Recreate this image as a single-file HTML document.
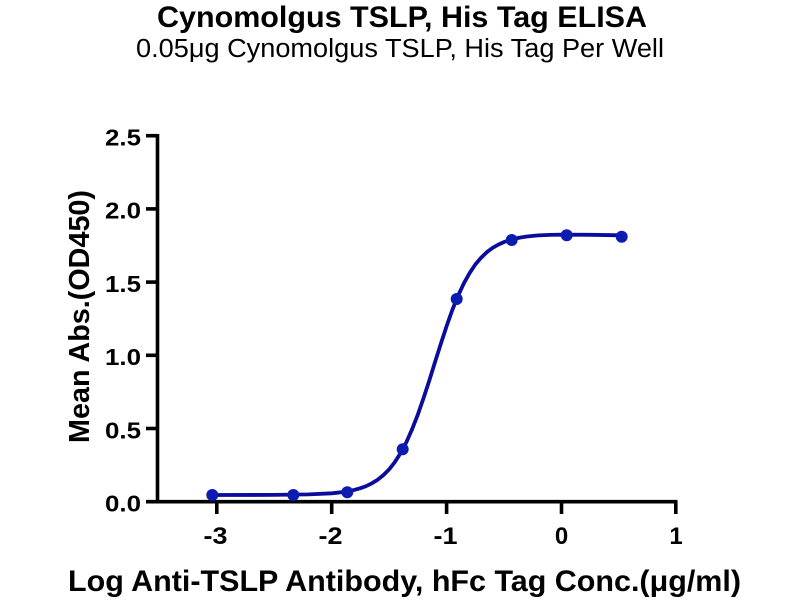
<!DOCTYPE html>
<html>
<head>
<meta charset="utf-8">
<style>
html,body{margin:0;padding:0;background:#fff;}
svg{display:block;}
text{font-family:"Liberation Sans",Arial,sans-serif;fill:#000;}
</style>
</head>
<body>
<svg width="800" height="600" viewBox="0 0 800 600" xmlns="http://www.w3.org/2000/svg">
<rect x="0" y="0" width="800" height="600" fill="#fff"/>
<!-- Titles -->
<text x="402" y="27" font-size="29.5" font-weight="bold" text-anchor="middle" textLength="490" lengthAdjust="spacingAndGlyphs">Cynomolgus TSLP, His Tag ELISA</text>
<text x="400" y="57" font-size="25.5" text-anchor="middle" textLength="528" lengthAdjust="spacingAndGlyphs">0.05μg Cynomolgus TSLP, His Tag Per Well</text>

<!-- Axes -->
<g stroke="#000" stroke-width="3.6" fill="none" stroke-linecap="butt">
  <line x1="157.5" y1="134" x2="157.5" y2="503.5"/>
  <line x1="146" y1="501.7" x2="677.5" y2="501.7"/>
  <!-- y ticks -->
  <line x1="146" y1="135.7" x2="157.5" y2="135.7"/>
  <line x1="146" y1="208.9" x2="157.5" y2="208.9"/>
  <line x1="146" y1="282.1" x2="157.5" y2="282.1"/>
  <line x1="146" y1="355.3" x2="157.5" y2="355.3"/>
  <line x1="146" y1="428.5" x2="157.5" y2="428.5"/>
  <!-- x ticks -->
  <line x1="216.8" y1="501.7" x2="216.8" y2="514"/>
  <line x1="331.7" y1="501.7" x2="331.7" y2="514"/>
  <line x1="446.6" y1="501.7" x2="446.6" y2="514"/>
  <line x1="561.5" y1="501.7" x2="561.5" y2="514"/>
  <line x1="675.8" y1="501.7" x2="675.8" y2="514"/>
</g>

<!-- Y tick labels -->
<g font-size="23.5" font-weight="bold" text-anchor="end">
  <text x="141" y="145.5" textLength="36" lengthAdjust="spacingAndGlyphs">2.5</text>
  <text x="141" y="218.7" textLength="36" lengthAdjust="spacingAndGlyphs">2.0</text>
  <text x="141" y="291.9" textLength="36" lengthAdjust="spacingAndGlyphs">1.5</text>
  <text x="141" y="365.1" textLength="36" lengthAdjust="spacingAndGlyphs">1.0</text>
  <text x="141" y="438.3" textLength="36" lengthAdjust="spacingAndGlyphs">0.5</text>
  <text x="141" y="511.5" textLength="36" lengthAdjust="spacingAndGlyphs">0.0</text>
</g>

<!-- X tick labels -->
<g font-size="24" font-weight="bold" text-anchor="middle">
  <text x="215.5" y="544" textLength="24" lengthAdjust="spacingAndGlyphs">-3</text>
  <text x="330.5" y="544" textLength="24" lengthAdjust="spacingAndGlyphs">-2</text>
  <text x="445.5" y="544" textLength="24" lengthAdjust="spacingAndGlyphs">-1</text>
  <text x="561.5" y="544">0</text>
  <text x="676" y="544">1</text>
</g>

<!-- Axis labels -->
<text transform="translate(89,316.5) rotate(-90)" font-size="28.6" font-weight="bold" text-anchor="middle" textLength="253" lengthAdjust="spacingAndGlyphs">Mean Abs.(OD450)</text>
<text x="404.5" y="591" font-size="30" font-weight="bold" text-anchor="middle" textLength="673" lengthAdjust="spacingAndGlyphs">Log Anti-TSLP Antibody, hFc Tag Conc.(μg/ml)</text>

<!-- Fitted curve -->
<path fill="none" stroke="#0c0c9c" stroke-width="3.8" stroke-linejoin="round" stroke-linecap="round"
 d="M212.2,495.0 L274.3,494.9 L308.7,494.4 L331.7,493.3 L337.5,492.7 L343.2,492.0 L348.9,491.1 L354.7,489.8 L360.4,488.2 L366.2,486.1 L371.9,483.3 L377.7,479.7 L383.4,475.1 L389.2,469.3 L394.9,462.0 L400.6,453.0 L406.4,442.1 L412.1,429.2 L417.9,414.4 L423.6,397.9 L429.4,380.2 L435.1,361.8 L440.9,343.6 L446.6,326.1 L452.3,310.0 L458.1,295.7 L463.8,283.4 L469.6,273.1 L475.3,264.5 L481.1,257.7 L486.8,252.2 L492.6,247.9 L498.3,244.6 L504.1,242.0 L509.8,240.1 L515.5,238.5 L521.3,237.4 L527.0,236.5 L532.8,235.9 L538.5,235.4 L550.0,234.9 L561.5,234.7 L590.2,234.8 L621.7,235.3"/>

<!-- Data points -->
<g fill="#0c1cb0">
  <circle cx="212.3" cy="495.0" r="6"/>
  <circle cx="293.3" cy="495.0" r="6"/>
  <circle cx="347.3" cy="492.3" r="6"/>
  <circle cx="402.7" cy="449.3" r="6"/>
  <circle cx="456.7" cy="299.0" r="6"/>
  <circle cx="511.7" cy="240.0" r="6"/>
  <circle cx="566.7" cy="235.3" r="6"/>
  <circle cx="621.7" cy="236.7" r="6"/>
</g>
</svg>
</body>
</html>
